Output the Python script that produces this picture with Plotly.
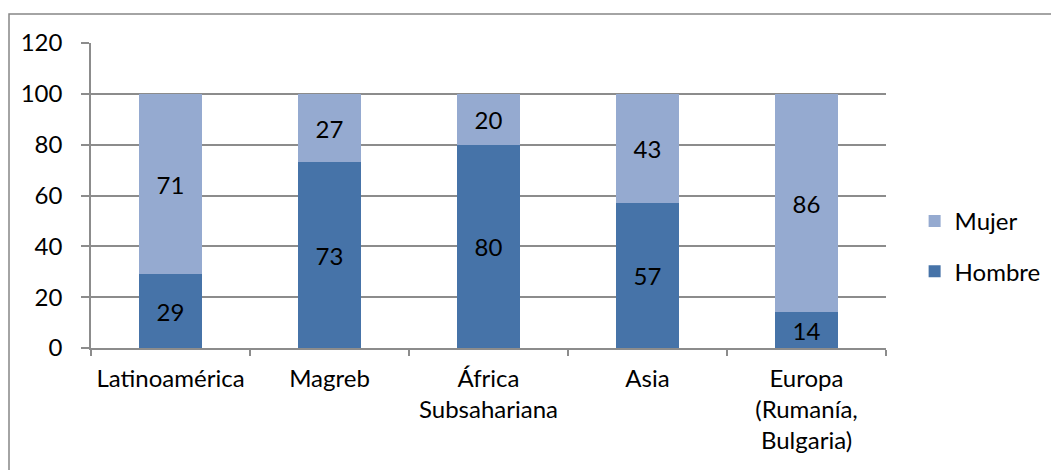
import plotly.graph_objects as go

# Distribution by sex (%) for each region of origin
categories = ["Latinoamérica", "Magreb", "África<br>Subsahariana", "Asia",
              "Europa<br>(Rumanía,<br>Bulgaria)"]
hombre = [29, 73, 80, 57, 14]
mujer = [71, 27, 20, 43, 86]
y_ticks = [0, 20, 40, 60, 80, 100, 120]

FONT = "Lato"
FS = 24
GRID = "#8c8c8c"
C_HOMBRE = "#4673a8"
C_MUJER = "#95aad0"

fig = go.Figure()
fig.add_trace(go.Bar(
    x=categories, y=hombre, name="Hombre", legendgroup="h", legendrank=2,
    marker=dict(color=C_HOMBRE, line=dict(width=0)),
    text=[str(v) for v in hombre], textposition="inside",
    insidetextanchor="middle", textangle=0,
    textfont=dict(family=FONT, size=FS, color="black"),
    width=0.4,
))
fig.add_trace(go.Bar(
    x=categories, y=mujer, name="Mujer", legendgroup="m", legendrank=1,
    marker=dict(color=C_MUJER, line=dict(width=0)),
    text=[str(v) for v in mujer], textposition="inside",
    insidetextanchor="middle", textangle=0,
    textfont=dict(family=FONT, size=FS, color="black"),
    width=0.4,
))

# outer chart frame
fig.add_shape(type="rect", xref="paper", yref="paper",
              x0=(9 - 91) / 795, x1=1.4, y0=-0.6, y1=1 + (43 - 14) / 305,
              line=dict(color="#878787", width=1.5), fillcolor="rgba(0,0,0,0)",
              layer="above")

fig.update_layout(
    width=1051, height=470,
    margin=dict(l=91, r=165, t=43, b=122, autoexpand=False),
    barmode="stack",
    plot_bgcolor="white", paper_bgcolor="white",
    font=dict(family=FONT, size=FS, color="black"),
    showlegend=True,
    legend=dict(traceorder="grouped", tracegroupgap=16,
                x=1.036, xanchor="left", y=0.333, yanchor="middle",
                font=dict(family=FONT, size=FS, color="black"),
                bgcolor="rgba(0,0,0,0)"),
    uniformtext=dict(minsize=10, mode="show"),
)
fig.update_yaxes(
    range=[0, 120], tickvals=y_ticks, showgrid=True, gridcolor=GRID, gridwidth=1.5,
    showline=True, linecolor=GRID, linewidth=1.5,
    ticks="outside", ticklen=8, tickcolor=GRID, tickwidth=1.5,
    ticklabelstandoff=14, zeroline=False, fixedrange=True,
)
fig.update_xaxes(
    showline=True, linecolor=GRID, linewidth=1.5,
    ticks="outside", ticklen=6, tickcolor=GRID, tickwidth=1.5,
    tickson="boundaries", ticklabelstandoff=8, fixedrange=True,
)

fig.write_html("out.html")
